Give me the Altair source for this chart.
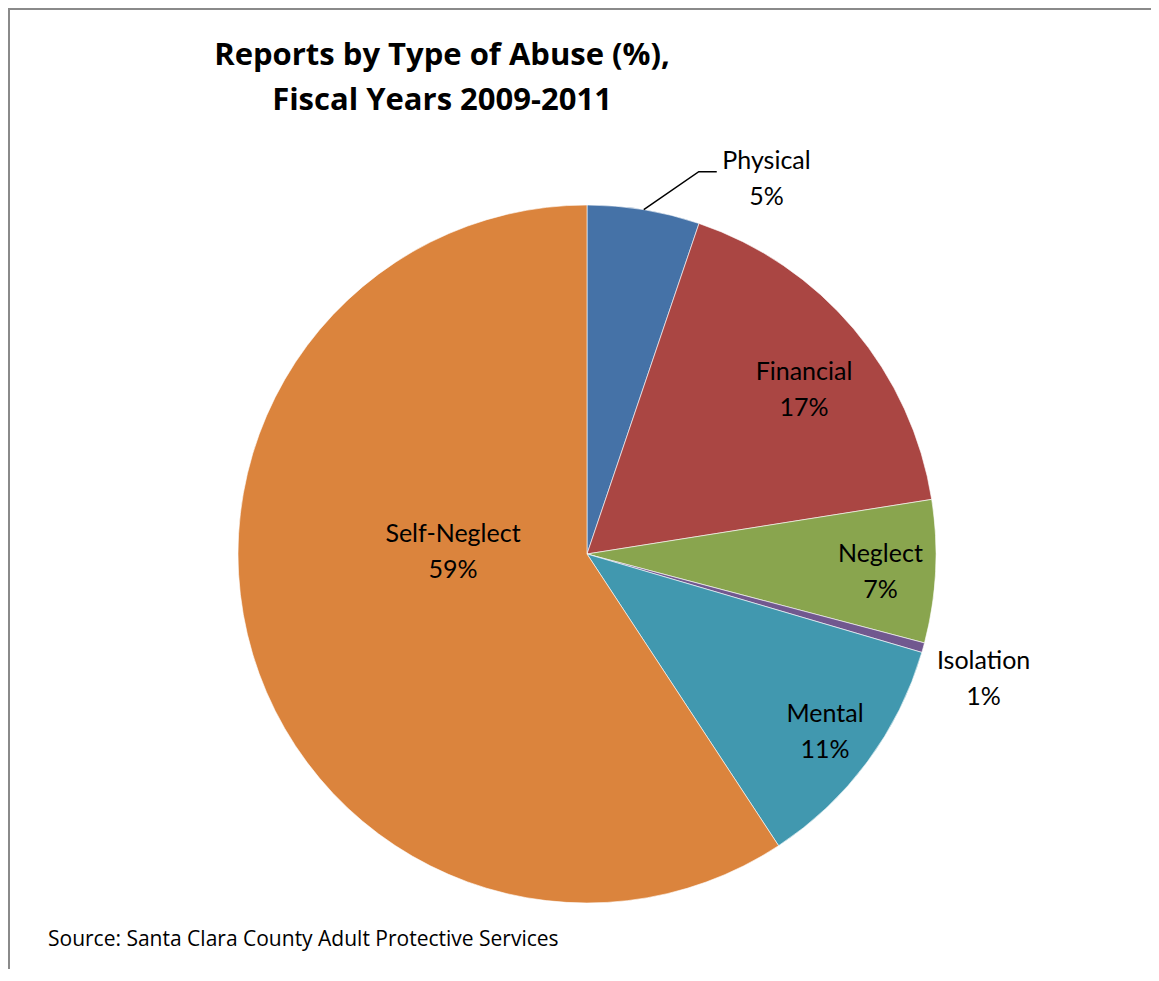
import math
import altair as alt
import pandas as pd

# ---- data ----
categories = ["Physical", "Financial", "Neglect", "Isolation", "Mental", "Self-Neglect"]
shares = [5.2, 17.3, 6.6, 0.45, 11.2, 59.25]
pct_labels = ["5%", "17%", "7%", "1%", "11%", "59%"]
colors = ["#4572A7", "#AA4643", "#89A54E", "#71588F", "#4198AF", "#DB843D"]

title_lines = ["Reports by Type of Abuse (%),", "Fiscal Years 2009-2011"]
source_text = "Source: Santa Clara County Adult Protective Services"

# ---- layout / style ----
P = 3                      # canvas padding (left/top)
OFF = 8 + P                # page offset of the view origin
W, H = 1140, 958
CX, CY, R = 587 - OFF, 554 - OFF, 349
label_radius = {"Physical": 416, "Financial": 272, "Neglect": 294,
                "Isolation": 416, "Mental": 297, "Self-Neglect": 134}
label_shift = {"Physical": 4.5, "Financial": 0.85, "Neglect": 0.2,
               "Isolation": 0.55, "Mental": 0.05, "Self-Neglect": 4.9}
LABEL_FONT = "Lato"
TEXT_FONT = "Open Sans"

# ---- build table ----
rows = []
cum = 0.0
for i, (c, v, p) in enumerate(zip(categories, shares, pct_labels)):
    mid = cum + v / 2
    rows.append({
        "category": c, "value": v, "order": i,
        "label": f"{c}\n{p}",
        "mid": mid,
        "lpos": mid + label_shift[c],
        "lrad": label_radius[c],
    })
    cum += v
df = pd.DataFrame(rows)
total = sum(shares)

theta_scale = alt.Scale(domain=[0, total], range=[0, 2 * math.pi])

pie = alt.Chart(df).mark_arc(outerRadius=R, stroke="white", strokeWidth=0.6).encode(
    theta=alt.Theta("value:Q", stack=True, scale=theta_scale),
    color=alt.Color("category:N", scale=alt.Scale(domain=categories, range=colors), legend=None),
    order=alt.Order("order:Q"),
    x=alt.value(CX),
    y=alt.value(CY),
)

labels = alt.Chart(df).mark_text(
    font=LABEL_FONT, fontSize=25, lineBreak="\n", lineHeight=36, dy=-18,
    align="center", baseline="middle", color="black",
).encode(
    theta=alt.Theta("lpos:Q", stack=None, scale=theta_scale),
    radius=alt.Radius("lrad:Q", scale=None),
    text="label:N",
    x=alt.value(CX),
    y=alt.value(CY),
)

# leader line for the Physical label, starting at the slice's outer edge
phys_mid = df.loc[df.category == "Physical", "mid"].iloc[0] / total * 2 * math.pi
sx, sy = CX + R * math.sin(phys_mid), CY - R * math.cos(phys_mid)
leader_df = pd.DataFrame({
    "px": [sx, sx + 55, sx + 73],
    "py": [sy, sy - 38, sy - 38],
    "k": [0, 1, 2],
})
leader = alt.Chart(leader_df).mark_line(color="black", strokeWidth=1.5).encode(
    x=alt.X("px:Q", scale=None, axis=None),
    y=alt.Y("py:Q", scale=None, axis=None),
    order="k:Q",
)

one = pd.DataFrame({"a": [0]})
title = alt.Chart(one).mark_text(
    text=title_lines, font=TEXT_FONT, fontSize=31, fontWeight="bold", lineHeight=45,
    align="center", baseline="middle", color="black",
).encode(x=alt.value(442 - OFF), y=alt.value(56 - OFF))

source = alt.Chart(one).mark_text(
    text=source_text, font=TEXT_FONT, fontSize=21,
    align="left", baseline="middle", color="black",
).encode(x=alt.value(48 - OFF), y=alt.value(940 - OFF))

frame_top = alt.Chart(one).mark_rule(color="#8a8a8a", strokeWidth=2).encode(
    x=alt.value(8 - OFF), x2=alt.value(W + 20), y=alt.value(9 - OFF))
frame_left = alt.Chart(one).mark_rule(color="#8a8a8a", strokeWidth=2).encode(
    x=alt.value(9 - OFF), y=alt.value(8 - OFF), y2=alt.value(H + 20))

chart = alt.layer(pie, leader, labels, title, source, frame_top, frame_left).properties(
    width=W, height=H,
    padding={"left": P, "top": P, "right": 0, "bottom": 0},
    autosize=alt.AutoSizeParams(type="none"),
).configure_view(stroke=None)

chart.save("out.html", embed_options={"renderer": "svg", "actions": False})
